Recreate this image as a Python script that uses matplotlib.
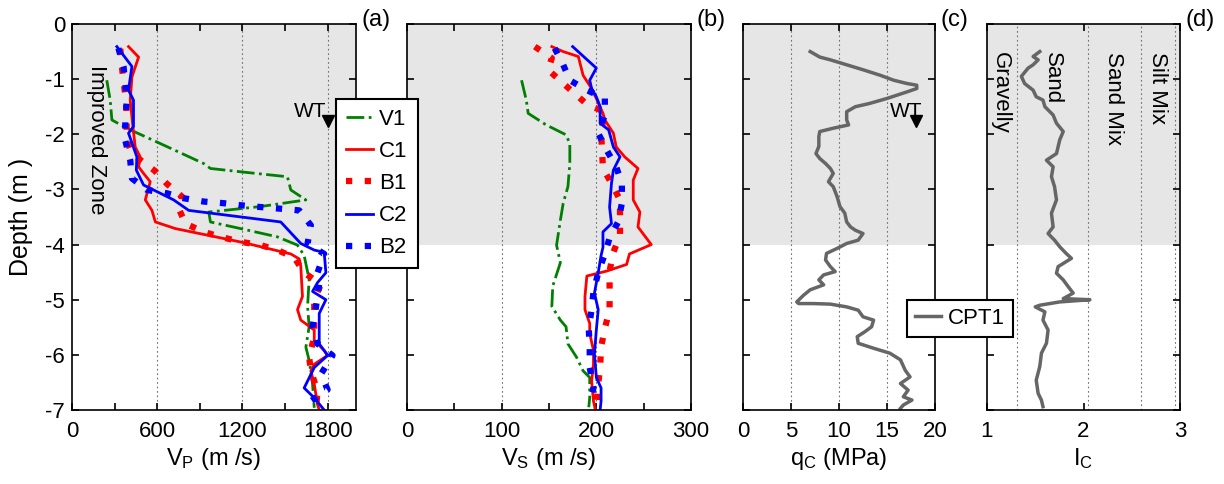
import matplotlib
matplotlib.use("Agg")
import matplotlib.pyplot as plt

plt.rcParams['font.family'] = ['Liberation Sans', 'DejaVu Sans']
plt.rcParams['mathtext.fontset'] = 'custom'
plt.rcParams['mathtext.rm'] = 'Liberation Sans'
plt.rcParams['mathtext.it'] = 'Liberation Sans:italic'
plt.rcParams['axes.unicode_minus'] = False
plt.rcParams['font.size'] = 16

# ---- (a) P-wave velocity profiles ----
vp_v1_z = [-1.02, -1.38, -1.74, -1.89, -2.14, -2.53, -2.62, -2.68, -2.77, -3.01, -3.19, -3.31, -3.41,
           -3.59, -3.71, -3.86, -4.01, -4.2, -4.63, -5.12, -5.49, -5.86, -6.1, -6.53, -6.96]
vp_v1 = [245, 269, 281, 386, 598, 927, 975, 1187, 1517, 1541, 1647, 1329, 963,
         975, 1187, 1446, 1588, 1635, 1670, 1659, 1670, 1647, 1670, 1694, 1706]
vp_c1_z = [-0.41, -0.6, -0.96, -1.38, -1.86, -2.23, -2.41, -2.59, -2.71, -2.86, -3.19, -3.38, -3.59, -3.71,
           -3.96, -4.17, -4.26, -4.39, -4.94, -5.18, -5.37, -5.46, -5.55, -5.74, -5.92, -6.01, -6.17,
           -6.29, -6.53, -6.9, -7.0]
vp_c1 = [398, 469, 422, 410, 429, 445, 480, 469, 504, 551, 516, 563, 587, 728,
         1200, 1541, 1600, 1611, 1623, 1588, 1611, 1659, 1706, 1706, 1777, 1800, 1706,
         1682, 1706, 1729, 1741]
vp_b1_z = [-0.45, -0.77, -1.44, -2.11, -2.35, -2.66, -2.9, -3.13, -3.35, -3.62, -3.77, -3.86, -3.95, -4.01,
           -4.1, -4.23, -4.51, -4.72, -5.0, -5.34, -5.67, -6.04, -6.29, -6.66, -6.99]
vp_b1 = [340, 351, 382, 386, 422, 582, 669, 775, 752, 799, 928, 1046, 1187, 1329,
         1446, 1564, 1635, 1753, 1706, 1706, 1706, 1670, 1682, 1729, 1718]
vp_c2_z = [-0.41, -0.77, -1.2, -1.38, -1.86, -1.98, -2.41, -2.65, -2.92, -3.07, -3.19, -3.38, -3.59, -3.98,
           -4.1, -4.14, -4.51, -4.69, -4.85, -5.0, -5.25, -5.8, -6.01, -6.23, -6.6, -6.78, -7.0]
vp_c2 = [316, 422, 398, 433, 433, 398, 457, 453, 504, 622, 716, 822, 1470, 1611,
         1706, 1776, 1788, 1729, 1694, 1788, 1741, 1741, 1800, 1706, 1635, 1706, 1776]
vp_b2_z = [-0.44, -0.77, -1.38, -1.77, -2.11, -2.47, -2.8, -3.01, -3.07, -3.16, -3.22, -3.25, -3.29, -3.32,
           -3.35, -3.38, -3.65, -3.98, -4.17, -4.51, -4.72, -5.15, -5.49, -5.8, -6.01, -6.35, -6.63, -6.84]
vp_b2 = [327, 363, 386, 375, 375, 410, 422, 528, 669, 787, 928, 1070, 1199, 1329,
         1470, 1600, 1682, 1659, 1776, 1729, 1741, 1717, 1694, 1729, 1835, 1753, 1800, 1682]

# ---- (b) S-wave velocity profiles ----
vs_v1_z = [-1.02, -1.38, -1.62, -1.83, -2.01, -2.17, -2.53, -2.95, -3.25, -3.56, -4.01, -4.33, -4.75,
           -5.12, -5.37, -5.49, -5.8, -6.04, -6.29, -6.41, -6.78, -6.95]
vs_v1 = [121, 126, 128, 147, 168, 172, 172, 170, 165, 162, 158, 162, 154,
         153, 162, 168, 170, 179, 186, 193, 193, 192]
vs_c1_z = [-0.41, -0.5, -0.59, -0.93, -1.17, -1.35, -1.62, -1.74, -1.98, -2.23, -2.41, -2.62, -2.83, -3.19,
           -3.41, -3.68, -4.0, -4.17, -4.36, -4.48, -4.57, -4.94, -5.18, -5.43, -5.61, -5.92, -6.17,
           -6.47, -6.84, -7.0]
vs_c1 = [153, 165, 181, 186, 195, 200, 207, 209, 218, 221, 230, 244, 239, 239,
         246, 244, 258, 235, 232, 211, 190, 188, 188, 193, 193, 197, 197, 195, 197, 199]
vs_b1_z = [-0.41, -0.62, -0.83, -1.26, -1.47, -1.59, -1.95, -2.62, -2.89, -3.19, -3.52, -3.83, -4.14,
           -4.48, -4.82, -5.18, -5.52, -5.86, -6.23, -6.53, -6.93]
vs_b1 = [135, 153, 149, 177, 191, 209, 205, 207, 216, 225, 225, 225, 218,
         214, 214, 214, 209, 205, 204, 202, 200]
vs_c2_z = [-0.41, -0.8, -1.02, -1.17, -1.32, -1.5, -1.8, -1.92, -2.23, -2.41, -2.65, -2.89, -3.32, -3.62,
           -3.77, -4.05, -4.2, -4.51, -4.88, -5.18, -5.55, -5.98, -6.41, -6.6, -6.84, -7.0]
vs_c2 = [175, 200, 193, 195, 200, 204, 204, 213, 218, 225, 218, 216, 214, 216,
         207, 207, 205, 202, 198, 202, 200, 198, 200, 205, 205, 204]
vs_b2_z = [-0.44, -0.74, -1.02, -1.2, -1.35, -1.65, -1.98, -2.29, -2.59, -2.89, -3.25, -3.59, -3.88,
           -4.17, -4.51, -4.85, -5.18, -5.52, -5.89, -6.23, -6.6, -6.9]
vs_b2 = [156, 165, 172, 190, 209, 209, 202, 211, 221, 227, 227, 223, 214,
         209, 202, 197, 195, 192, 193, 193, 197, 193]

# ---- (c) cone tip resistance, CPT1 ----
qc_z = [-0.5, -0.6, -0.65, -0.74, -0.83, -0.93, -1.02, -1.08, -1.11, -1.17, -1.23, -1.35, -1.44, -1.5,
        -1.59, -1.74, -1.83, -1.89, -1.95, -2.04, -2.22, -2.35, -2.44, -2.53, -2.62, -2.71, -2.86,
        -2.95, -3.13, -3.31, -3.43, -3.59, -3.68, -3.74, -3.8, -3.92, -3.98, -4.07, -4.16, -4.28,
        -4.4, -4.49, -4.55, -4.64, -4.73, -4.82, -4.92, -5.04, -5.07, -5.07, -5.08, -5.13, -5.19,
        -5.31, -5.37, -5.49, -5.58, -5.67, -5.79, -5.88, -5.97, -6.09, -6.28, -6.4, -6.52, -6.64,
        -6.76, -6.82, -6.91, -6.97]
qc = [7.0, 8.0, 9.1, 10.8, 12.5, 14.3, 15.7, 17.1, 18.1, 18.1, 17.1, 15.0, 13.2, 11.7,
      10.8, 10.8, 11.0, 9.4, 8.0, 7.9, 7.9, 7.6, 8.0, 8.6, 9.1, 9.4, 8.9,
      9.4, 9.8, 10.1, 10.6, 10.8, 11.2, 11.7, 12.5, 12.0, 10.8, 9.8, 8.7, 8.6,
      9.1, 9.6, 8.4, 7.9, 8.4, 7.0, 6.3, 5.6, 5.8, 7.3, 9.1, 10.8, 12.0,
      12.5, 13.6, 13.4, 12.7, 11.9, 12.0, 13.6, 15.3, 16.4, 16.9, 17.4, 16.4, 17.2,
      16.7, 17.6, 16.7, 16.4]

# ---- (d) soil behaviour type index, CPT1 ----
ic_z = [-0.5, -0.59, -0.65, -0.74, -0.8, -0.95, -1.08, -1.2, -1.32, -1.38, -1.5, -1.65, -1.8, -1.95,
        -2.1, -2.35, -2.47, -2.59, -2.77, -2.95, -3.19, -3.43, -3.68, -3.8, -3.92, -4.04, -4.16,
        -4.25, -4.4, -4.52, -4.64, -4.76, -4.88, -4.98, -5.0, -5.04, -5.1, -5.13, -5.22, -5.37,
        -5.55, -5.79, -5.97, -6.21, -6.46, -6.7, -6.82, -6.94]
ic = [1.547, 1.478, 1.53, 1.478, 1.426, 1.356, 1.39, 1.478, 1.51, 1.58, 1.6, 1.685, 1.72, 1.79,
      1.754, 1.72, 1.616, 1.685, 1.668, 1.7, 1.72, 1.668, 1.685, 1.633, 1.7, 1.754, 1.82,
      1.875, 1.737, 1.72, 1.79, 1.84, 1.893, 1.79, 2.066, 1.754, 1.547, 1.5, 1.6, 1.58,
      1.633, 1.616, 1.564, 1.547, 1.51, 1.53, 1.564, 1.58]
ic_bounds = [1.31, 2.05, 2.6, 2.95]
ic_zones = ['Gravelly', 'Sand', 'Sand Mix', 'Silt Mix']
ic_zone_x = [1.135, 1.674, 2.306, 2.77]

improved_depth = -4.0
wt_depth = -1.75

GRAY_BAND = '#e6e6e6'
GREEN = '#008000'
RED = '#ff0000'
BLUE = '#0000ff'
CPT = '#666666'
SQ = (0, (1.0, 2.0))


def setup(ax, xlim, major, minor, grid, xlabel, tag):
    ax.axhspan(improved_depth, 0, color=GRAY_BAND, lw=0, zorder=0)
    for g in grid:
        ax.axvline(g, color='#707070', ls=(0, (1.5, 2.5)), lw=0.8, zorder=1)
    ax.set_xlim(*xlim)
    ax.set_ylim(-7, 0)
    ax.set_xticks(major)
    ax.set_xticks(minor, minor=True)
    ax.set_yticks(range(-7, 1))
    ax.tick_params(which='both', direction='in', top=True, right=True,
                   length=5, width=1.2, labelsize=16)
    ax.tick_params(axis='x', pad=8)
    ax.tick_params(axis='y', pad=5)
    for s in ax.spines.values():
        s.set_linewidth(1.2)
    ax.set_xlabel(xlabel, fontsize=17, labelpad=3)
    ax.annotate(tag, xy=(1.0, 1.0), xycoords='axes fraction', xytext=(4, 3),
                textcoords='offset points', ha='left', va='center', fontsize=17)


fig = plt.figure(figsize=(12.24, 4.84), dpi=100)
W, H = 1224.0, 484.0
bot = 1 - 410 / H
hgt = (410 - 24) / H
ax_a = fig.add_axes([72 / W, bot, 284 / W, hgt])
ax_b = fig.add_axes([407 / W, bot, 284 / W, hgt])
ax_c = fig.add_axes([743 / W, bot, 192 / W, hgt])
ax_d = fig.add_axes([987 / W, bot, 193 / W, hgt])

# (a)
setup(ax_a, (0, 2000), [0, 600, 1200, 1800], [300, 900, 1500], [600, 1200, 1800],
      r'V$_\mathrm{P}$ (m /s)', '(a)')
l_v1, = ax_a.plot(vp_v1, vp_v1_z, color=GREEN, ls='-.', lw=2, label='V1')
l_c1, = ax_a.plot(vp_c1, vp_c1_z, color=RED, ls='-', lw=2, label='C1')
l_b1, = ax_a.plot(vp_b1, vp_b1_z, color=RED, ls=SQ, lw=4.5, dash_capstyle='butt', label='B1')
l_c2, = ax_a.plot(vp_c2, vp_c2_z, color=BLUE, ls='-', lw=2, label='C2')
l_b2, = ax_a.plot(vp_b2, vp_b2_z, color=BLUE, ls=SQ, lw=4.5, dash_capstyle='butt', label='B2')
ax_a.text(176, -2.1, 'Improved Zone', rotation=-90, ha='center', va='center', fontsize=16)
ax_a.plot([1800], [wt_depth], marker='v', color='black', ms=8, clip_on=False)
ax_a.text(1790, -1.68, 'WT', ha='right', va='baseline', fontsize=15)
ax_a.set_ylabel('Depth (m )', fontsize=18, labelpad=9)

# (b)
setup(ax_b, (0, 300), [0, 100, 200, 300], [50, 150, 250], [100, 200],
      r'V$_\mathrm{S}$ (m /s)', '(b)')
ax_b.plot(vs_v1, vs_v1_z, color=GREEN, ls='-.', lw=2)
ax_b.plot(vs_c1, vs_c1_z, color=RED, ls='-', lw=2)
ax_b.plot(vs_b1, vs_b1_z, color=RED, ls=SQ, lw=4.5, dash_capstyle='butt')
ax_b.plot(vs_c2, vs_c2_z, color=BLUE, ls='-', lw=2)
ax_b.plot(vs_b2, vs_b2_z, color=BLUE, ls=SQ, lw=4.5, dash_capstyle='butt')
ax_b.set_yticklabels([])

# (c)
setup(ax_c, (0, 20), [0, 5, 10, 15, 20], [], [5, 10, 15],
      r'q$_\mathrm{C}$ (MPa)', '(c)')
l_cpt, = ax_c.plot(qc, qc_z, color=CPT, lw=2.5, label='CPT1')
ax_c.plot([18.0], [wt_depth], marker='v', color='black', ms=8)
ax_c.text(17.0, -1.68, 'WT', ha='center', va='baseline', fontsize=15)
ax_c.set_yticklabels([])

# (d)
setup(ax_d, (1, 3), [1, 2, 3], [], ic_bounds, r'I$_\mathrm{C}$', '(d)')
ax_d.plot(ic, ic_z, color=CPT, lw=2.5)
for name, xz in zip(ic_zones, ic_zone_x):
    ax_d.text(xz, -0.5, name, rotation=-90, ha='center', va='top', fontsize=16)
ax_d.set_yticklabels([])

leg = fig.legend(handles=[l_v1, l_c1, l_b1, l_c2, l_b2], loc='upper left',
                 bbox_to_anchor=(336 / W, 1 - 99 / H), borderaxespad=0, fancybox=False,
                 edgecolor='black', framealpha=1, handlelength=1.2, handletextpad=0.3,
                 labelspacing=0.5, fontsize=16, borderpad=0.45)
leg.get_frame().set_linewidth(1.5)
leg2 = fig.legend(handles=[l_cpt], loc='upper left', bbox_to_anchor=(907 / W, 1 - 300 / H),
                  borderaxespad=0, fancybox=False, edgecolor='black', framealpha=1,
                  handlelength=1.2, handletextpad=0.3, fontsize=16, borderpad=0.35)
leg2.get_frame().set_linewidth(1.5)

fig.savefig('out.png', dpi=100)
